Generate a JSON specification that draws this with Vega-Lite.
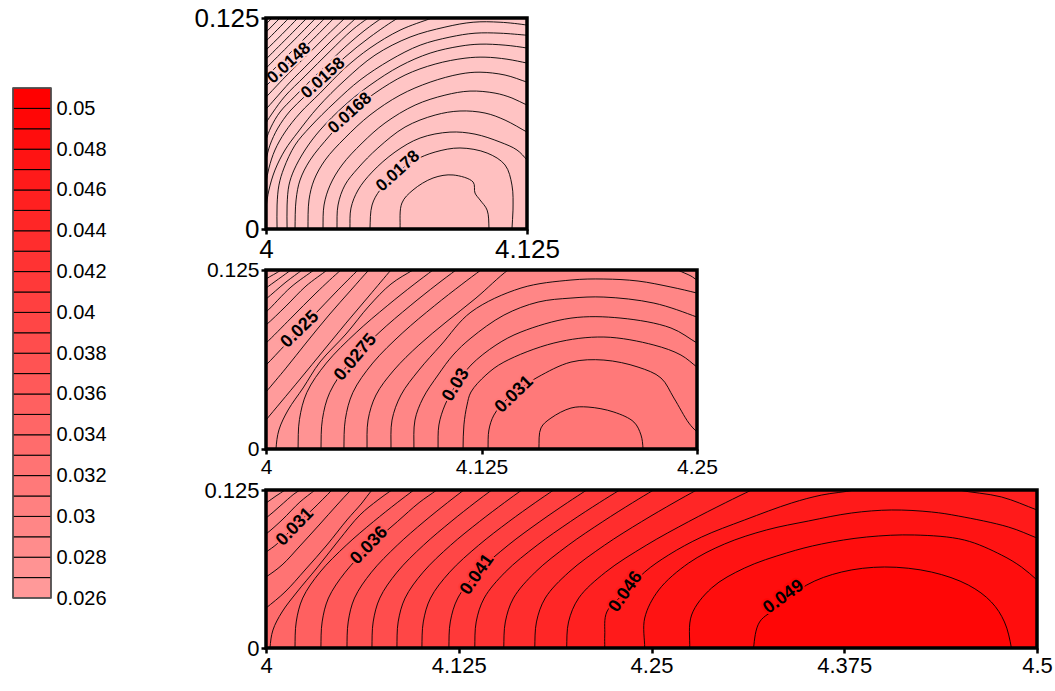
{
"$schema": "https://vega.github.io/schema/vega-lite/v6.json",
"background": "white",
"padding": {"left": 12, "top": 5, "right": 0, "bottom": 0},
"config": {"font": "Liberation Sans", "view": {"stroke": null},
  "axis": {"grid": false, "domain": false, "ticks": true, "tickColor": "black", "tickWidth": 2.5, "tickSize": 5, "labelColor": "black", "labelFlush": false, "labelOverlap": false, "labelPadding": 2, "labelExpr": "'' + datum.value"}},
"datasets": {
"lg": [{"lo":0.026,"hi":0.027},{"lo":0.027,"hi":0.028},{"lo":0.028,"hi":0.029},{"lo":0.029,"hi":0.03},{"lo":0.03,"hi":0.031},{"lo":0.031,"hi":0.032},{"lo":0.032,"hi":0.033},{"lo":0.033,"hi":0.034},{"lo":0.034,"hi":0.035},{"lo":0.035,"hi":0.036},{"lo":0.036,"hi":0.037},{"lo":0.037,"hi":0.038},{"lo":0.038,"hi":0.039},{"lo":0.039,"hi":0.04},{"lo":0.04,"hi":0.041},{"lo":0.041,"hi":0.042},{"lo":0.042,"hi":0.043},{"lo":0.043,"hi":0.044},{"lo":0.044,"hi":0.045},{"lo":0.045,"hi":0.046},{"lo":0.046,"hi":0.047},{"lo":0.047,"hi":0.048},{"lo":0.048,"hi":0.049},{"lo":0.049,"hi":0.05},{"lo":0.05,"hi":0.051}],
"lgb": [{"lo":0.026,"hi":0.051}],
"l1": [{"t":"0.0148","x":4.011,"y":0.0983,"lv":0.0148},{"t":"0.0158","x":4.0273,"y":0.0894,"lv":0.0158},{"t":"0.0168","x":4.0402,"y":0.0687,"lv":0.0168},{"t":"0.0178","x":4.0632,"y":0.0343,"lv":0.0178}],
"l2": [{"t":"0.025","x":4.0197,"y":0.0834,"lv":0.025,"g":"a"},{"t":"0.031","x":4.144,"y":0.038,"lv":0.031,"g":"a"},{"t":"0.0275","x":4.052,"y":0.064,"lv":0.0275,"g":"b"},{"t":"0.03","x":4.1102,"y":0.0447,"lv":0.03,"g":"c"}],
"l3": [{"t":"0.031","x":4.0188,"y":0.0957,"lv":0.031,"g":"a"},{"t":"0.036","x":4.067,"y":0.081,"lv":0.036,"g":"a"},{"t":"0.041","x":4.137,"y":0.058,"lv":0.041,"g":"b"},{"t":"0.046","x":4.2333,"y":0.0443,"lv":0.046,"g":"b"},{"t":"0.049","x":4.3357,"y":0.0403,"lv":0.049,"g":"c"}],
"f1": [{"x":4,"y":0,"x2":4.125,"y2":0.125}],
"f2": [{"x":4,"y":0,"x2":4.25,"y2":0.125}],
"f3": [{"x":4,"y":0,"x2":4.5,"y2":0.125}],
"c1": [
{"lv":0.0132,"x":3.985,"y":-0.015},{"lv":0.0132,"x":3.985,"y":0.14},{"lv":0.0132,"x":4.14,"y":0.14},{"lv":0.0132,"x":4.14,"y":-0.015},
{"lv":0.0134,"x":3.9976,"y":0.1184},{"lv":0.0134,"x":4,"y":0.1214},{"lv":0.0134,"x":4.0029,"y":0.125},{"lv":0.0134,"x":4.0053,"y":0.128},{"lv":0.0134,"x":4.14,"y":0.14},{"lv":0.0134,"x":4.14,"y":-0.015},{"lv":0.0134,"x":3.985,"y":-0.015},
{"lv":0.0136,"x":3.9976,"y":0.1136},{"lv":0.0136,"x":4,"y":0.1166},{"lv":0.0136,"x":4.0067,"y":0.125},{"lv":0.0136,"x":4.0091,"y":0.128},{"lv":0.0136,"x":4.14,"y":0.14},{"lv":0.0136,"x":4.14,"y":-0.015},{"lv":0.0136,"x":3.985,"y":-0.015},
{"lv":0.0138,"x":3.9976,"y":0.1083},{"lv":0.0138,"x":4,"y":0.1113},{"lv":0.0138,"x":4.0057,"y":0.1184},{"lv":0.0138,"x":4.011,"y":0.125},{"lv":0.0138,"x":4.0134,"y":0.128},{"lv":0.0138,"x":4.14,"y":0.14},{"lv":0.0138,"x":4.14,"y":-0.015},{"lv":0.0138,"x":3.985,"y":-0.015},
{"lv":0.014,"x":3.9976,"y":0.103},{"lv":0.014,"x":4,"y":0.106},{"lv":0.014,"x":4.0077,"y":0.1154},{"lv":0.014,"x":4.0153,"y":0.125},{"lv":0.014,"x":4.0177,"y":0.128},{"lv":0.014,"x":4.14,"y":0.14},{"lv":0.014,"x":4.14,"y":-0.015},{"lv":0.014,"x":3.985,"y":-0.015},
{"lv":0.0142,"x":3.9976,"y":0.0976},{"lv":0.0142,"x":4,"y":0.1006},{"lv":0.0142,"x":4.0101,"y":0.1131},{"lv":0.0142,"x":4.0196,"y":0.125},{"lv":0.0142,"x":4.022,"y":0.128},{"lv":0.0142,"x":4.14,"y":0.14},{"lv":0.0142,"x":4.14,"y":-0.015},{"lv":0.0142,"x":3.985,"y":-0.015},
{"lv":0.0144,"x":3.9976,"y":0.0923},{"lv":0.0144,"x":4,"y":0.0953},{"lv":0.0144,"x":4.012,"y":0.1101},{"lv":0.0144,"x":4.0239,"y":0.125},{"lv":0.0144,"x":4.0263,"y":0.128},{"lv":0.0144,"x":4.14,"y":0.14},{"lv":0.0144,"x":4.14,"y":-0.015},{"lv":0.0144,"x":3.985,"y":-0.015},
{"lv":0.0146,"x":3.9976,"y":0.087},{"lv":0.0146,"x":4,"y":0.09},{"lv":0.0146,"x":4.0139,"y":0.1072},{"lv":0.0146,"x":4.0283,"y":0.125},{"lv":0.0146,"x":4.0307,"y":0.128},{"lv":0.0146,"x":4.14,"y":0.14},{"lv":0.0146,"x":4.14,"y":-0.015},{"lv":0.0146,"x":3.985,"y":-0.015},
{"lv":0.0148,"x":3.9976,"y":0.0817},{"lv":0.0148,"x":4,"y":0.0847},{"lv":0.0148,"x":4.011,"y":0.0983},{"lv":0.0148,"x":4.0211,"y":0.1107},{"lv":0.0148,"x":4.0326,"y":0.125},{"lv":0.0148,"x":4.035,"y":0.128},{"lv":0.0148,"x":4.14,"y":0.14},{"lv":0.0148,"x":4.14,"y":-0.015},{"lv":0.0148,"x":3.985,"y":-0.015},
{"lv":0.015,"x":3.9976,"y":0.0751},{"lv":0.015,"x":4,"y":0.0781},{"lv":0.015,"x":4.0091,"y":0.09},{"lv":0.015,"x":4.0187,"y":0.1018},{"lv":0.015,"x":4.0283,"y":0.1137},{"lv":0.015,"x":4.0378,"y":0.125},{"lv":0.015,"x":4.0402,"y":0.128},{"lv":0.015,"x":4.14,"y":0.14},{"lv":0.015,"x":4.14,"y":-0.015},{"lv":0.015,"x":3.985,"y":-0.015},
{"lv":0.0152,"x":3.9981,"y":0.0686},{"lv":0.0152,"x":4,"y":0.071},{"lv":0.0152,"x":4.0043,"y":0.077},{"lv":0.0152,"x":4.0115,"y":0.087},{"lv":0.0152,"x":4.0211,"y":0.0989},{"lv":0.0152,"x":4.0316,"y":0.1119},{"lv":0.0152,"x":4.0431,"y":0.125},{"lv":0.0152,"x":4.0455,"y":0.128},{"lv":0.0152,"x":4.14,"y":0.14},{"lv":0.0152,"x":4.14,"y":-0.015},{"lv":0.0152,"x":3.985,"y":-0.015},
{"lv":0.0154,"x":3.9985,"y":0.059},{"lv":0.0154,"x":4,"y":0.0628},{"lv":0.0154,"x":4.0034,"y":0.0693},{"lv":0.0154,"x":4.0091,"y":0.0787},{"lv":0.0154,"x":4.0187,"y":0.0906},{"lv":0.0154,"x":4.0307,"y":0.1054},{"lv":0.0154,"x":4.0412,"y":0.1178},{"lv":0.0154,"x":4.0489,"y":0.125},{"lv":0.0154,"x":4.052,"y":0.1275},{"lv":0.0154,"x":4.14,"y":0.14},{"lv":0.0154,"x":4.14,"y":-0.015},{"lv":0.0154,"x":3.985,"y":-0.015},
{"lv":0.0156,"x":3.999,"y":0.048},{"lv":0.0156,"x":4,"y":0.0527},{"lv":0.0156,"x":4.0024,"y":0.0604},{"lv":0.0156,"x":4.0067,"y":0.0693},{"lv":0.0156,"x":4.0139,"y":0.0787},{"lv":0.0156,"x":4.0259,"y":0.0935},{"lv":0.0156,"x":4.0378,"y":0.1077},{"lv":0.0156,"x":4.0474,"y":0.1178},{"lv":0.0156,"x":4.0556,"y":0.125},{"lv":0.0156,"x":4.0595,"y":0.1275},{"lv":0.0156,"x":4.14,"y":0.14},{"lv":0.0156,"x":4.14,"y":-0.015},{"lv":0.0156,"x":3.985,"y":-0.015},
{"lv":0.0158,"x":3.999,"y":0.035},{"lv":0.0158,"x":4,"y":0.0408},{"lv":0.0158,"x":4.0019,"y":0.0497},{"lv":0.0158,"x":4.0057,"y":0.0598},{"lv":0.0158,"x":4.0115,"y":0.0699},{"lv":0.0158,"x":4.0187,"y":0.0787},{"lv":0.0158,"x":4.0273,"y":0.0894},{"lv":0.0158,"x":4.0378,"y":0.1018},{"lv":0.0158,"x":4.0498,"y":0.1137},{"lv":0.0158,"x":4.0632,"y":0.125},{"lv":0.0158,"x":4.068,"y":0.128},{"lv":0.0158,"x":4.14,"y":0.14},{"lv":0.0158,"x":4.14,"y":-0.015},{"lv":0.0158,"x":3.985,"y":-0.015},
{"lv":0.016,"x":3.9995,"y":0.021},{"lv":0.016,"x":4,"y":0.0272},{"lv":0.016,"x":4.0014,"y":0.0361},{"lv":0.016,"x":4.0043,"y":0.0468},{"lv":0.016,"x":4.0091,"y":0.0574},{"lv":0.016,"x":4.0163,"y":0.0687},{"lv":0.016,"x":4.0259,"y":0.0805},{"lv":0.016,"x":4.0378,"y":0.0953},{"lv":0.016,"x":4.0498,"y":0.1072},{"lv":0.016,"x":4.0642,"y":0.1178},{"lv":0.016,"x":4.0795,"y":0.125},{"lv":0.016,"x":4.086,"y":0.128},{"lv":0.016,"x":4.14,"y":0.14},{"lv":0.016,"x":4.14,"y":-0.015},{"lv":0.016,"x":3.985,"y":-0.015},
{"lv":0.0162,"x":3.9995,"y":0.005},{"lv":0.0162,"x":4,"y":0.0124},{"lv":0.0162,"x":4.0014,"y":0.0231},{"lv":0.0162,"x":4.0043,"y":0.0349},{"lv":0.0162,"x":4.0091,"y":0.0468},{"lv":0.0162,"x":4.0153,"y":0.0574},{"lv":0.0162,"x":4.0249,"y":0.0722},{"lv":0.0162,"x":4.0378,"y":0.0882},{"lv":0.0162,"x":4.0522,"y":0.103},{"lv":0.0162,"x":4.069,"y":0.1137},{"lv":0.0162,"x":4.0857,"y":0.1196},{"lv":0.0162,"x":4.0992,"y":0.1225},{"lv":0.0162,"x":4.1121,"y":0.1225},{"lv":0.0162,"x":4.125,"y":0.1208},{"lv":0.0162,"x":4.13,"y":0.1195},{"lv":0.0162,"x":4.14,"y":-0.015},{"lv":0.0162,"x":3.985,"y":-0.015},
{"lv":0.0164,"x":4.0053,"y":-0.015},{"lv":0.0164,"x":4.0053,"y":0},{"lv":0.0164,"x":4.0053,"y":0.0142},{"lv":0.0164,"x":4.0062,"y":0.026},{"lv":0.0164,"x":4.0086,"y":0.0361},{"lv":0.0164,"x":4.0139,"y":0.0497},{"lv":0.0164,"x":4.0211,"y":0.0604},{"lv":0.0164,"x":4.0331,"y":0.0752},{"lv":0.0164,"x":4.045,"y":0.0882},{"lv":0.0164,"x":4.0594,"y":0.1},{"lv":0.0164,"x":4.0738,"y":0.1089},{"lv":0.0164,"x":4.0881,"y":0.1137},{"lv":0.0164,"x":4.1001,"y":0.116},{"lv":0.0164,"x":4.1121,"y":0.116},{"lv":0.0164,"x":4.125,"y":0.1148},{"lv":0.0164,"x":4.13,"y":0.1143},{"lv":0.0164,"x":4.14,"y":-0.015},
{"lv":0.0166,"x":4.0101,"y":-0.015},{"lv":0.0166,"x":4.0101,"y":0},{"lv":0.0166,"x":4.0101,"y":0.0142},{"lv":0.0166,"x":4.011,"y":0.026},{"lv":0.0166,"x":4.0134,"y":0.0349},{"lv":0.0166,"x":4.0187,"y":0.0468},{"lv":0.0166,"x":4.0259,"y":0.0586},{"lv":0.0166,"x":4.0378,"y":0.0734},{"lv":0.0166,"x":4.0498,"y":0.0852},{"lv":0.0166,"x":4.0642,"y":0.0965},{"lv":0.0166,"x":4.0786,"y":0.1042},{"lv":0.0166,"x":4.0929,"y":0.1083},{"lv":0.0166,"x":4.1025,"y":0.1095},{"lv":0.0166,"x":4.1145,"y":0.1089},{"lv":0.0166,"x":4.125,"y":0.1072},{"lv":0.0166,"x":4.13,"y":0.106},{"lv":0.0166,"x":4.14,"y":-0.015},
{"lv":0.0168,"x":4.0139,"y":-0.015},{"lv":0.0168,"x":4.0139,"y":0},{"lv":0.0168,"x":4.0144,"y":0.0172},{"lv":0.0168,"x":4.0163,"y":0.029},{"lv":0.0168,"x":4.0211,"y":0.0408},{"lv":0.0168,"x":4.0307,"y":0.0556},{"lv":0.0168,"x":4.0402,"y":0.0687},{"lv":0.0168,"x":4.0522,"y":0.0805},{"lv":0.0168,"x":4.0666,"y":0.0912},{"lv":0.0168,"x":4.081,"y":0.0977},{"lv":0.0168,"x":4.0953,"y":0.1012},{"lv":0.0168,"x":4.1049,"y":0.1018},{"lv":0.0168,"x":4.1154,"y":0.1006},{"lv":0.0168,"x":4.125,"y":0.0983},{"lv":0.0168,"x":4.13,"y":0.097},{"lv":0.0168,"x":4.14,"y":-0.015},
{"lv":0.017,"x":4.0201,"y":-0.015},{"lv":0.017,"x":4.0201,"y":0},{"lv":0.017,"x":4.0206,"y":0.0172},{"lv":0.017,"x":4.023,"y":0.029},{"lv":0.017,"x":4.0283,"y":0.0408},{"lv":0.017,"x":4.0378,"y":0.0539},{"lv":0.017,"x":4.0498,"y":0.0675},{"lv":0.017,"x":4.0642,"y":0.0793},{"lv":0.017,"x":4.0786,"y":0.087},{"lv":0.017,"x":4.0929,"y":0.0918},{"lv":0.017,"x":4.1025,"y":0.0929},{"lv":0.017,"x":4.1145,"y":0.0912},{"lv":0.017,"x":4.125,"y":0.087},{"lv":0.017,"x":4.13,"y":0.085},{"lv":0.017,"x":4.14,"y":-0.015},
{"lv":0.0172,"x":4.0273,"y":-0.015},{"lv":0.0172,"x":4.0273,"y":0},{"lv":0.0172,"x":4.0278,"y":0.0142},{"lv":0.0172,"x":4.0307,"y":0.026},{"lv":0.0172,"x":4.0364,"y":0.0379},{"lv":0.0172,"x":4.046,"y":0.0509},{"lv":0.0172,"x":4.057,"y":0.0628},{"lv":0.0172,"x":4.0714,"y":0.0734},{"lv":0.0172,"x":4.0857,"y":0.0793},{"lv":0.0172,"x":4.0977,"y":0.0817},{"lv":0.0172,"x":4.1097,"y":0.0805},{"lv":0.0172,"x":4.1178,"y":0.0776},{"lv":0.0172,"x":4.125,"y":0.0734},{"lv":0.0172,"x":4.13,"y":0.071},{"lv":0.0172,"x":4.14,"y":-0.015},
{"lv":0.0174,"x":4.034,"y":-0.015},{"lv":0.0174,"x":4.034,"y":0},{"lv":0.0174,"x":4.0345,"y":0.0142},{"lv":0.0174,"x":4.0378,"y":0.026},{"lv":0.0174,"x":4.0441,"y":0.0361},{"lv":0.0174,"x":4.0536,"y":0.048},{"lv":0.0174,"x":4.0666,"y":0.0604},{"lv":0.0174,"x":4.081,"y":0.0675},{"lv":0.0174,"x":4.0929,"y":0.0699},{"lv":0.0174,"x":4.1049,"y":0.0687},{"lv":0.0174,"x":4.1145,"y":0.0645},{"lv":0.0174,"x":4.125,"y":0.0574},{"lv":0.0174,"x":4.13,"y":0.054},{"lv":0.0174,"x":4.14,"y":-0.015},
{"lv":0.0176,"x":4.0402,"y":-0.015},{"lv":0.0176,"x":4.0402,"y":0},{"lv":0.0176,"x":4.0407,"y":0.0124},{"lv":0.0176,"x":4.0441,"y":0.0231},{"lv":0.0176,"x":4.0508,"y":0.0337},{"lv":0.0176,"x":4.0618,"y":0.0456},{"lv":0.0176,"x":4.0738,"y":0.0539},{"lv":0.0176,"x":4.0881,"y":0.0574},{"lv":0.0176,"x":4.1001,"y":0.0562},{"lv":0.0176,"x":4.1121,"y":0.0515},{"lv":0.0176,"x":4.1202,"y":0.0468},{"lv":0.0176,"x":4.125,"y":0.0408},{"lv":0.0176,"x":4.129,"y":0.034},{"lv":0.0176,"x":4.14,"y":-0.015},
{"lv":0.0178,"x":4.0498,"y":-0.015},{"lv":0.0178,"x":4.0498,"y":0},{"lv":0.0178,"x":4.0508,"y":0.0142},{"lv":0.0178,"x":4.0546,"y":0.0231},{"lv":0.0178,"x":4.0632,"y":0.0337},{"lv":0.0178,"x":4.0714,"y":0.0408},{"lv":0.0178,"x":4.081,"y":0.0456},{"lv":0.0178,"x":4.0929,"y":0.048},{"lv":0.0178,"x":4.1059,"y":0.045},{"lv":0.0178,"x":4.1145,"y":0.0379},{"lv":0.0178,"x":4.1178,"y":0.026},{"lv":0.0178,"x":4.1183,"y":0.0112},{"lv":0.0178,"x":4.1178,"y":0},{"lv":0.0178,"x":4.1178,"y":-0.015},
{"lv":0.018,"x":4.0642,"y":-0.015},{"lv":0.018,"x":4.0642,"y":0},{"lv":0.018,"x":4.0651,"y":0.0154},{"lv":0.018,"x":4.0704,"y":0.0231},{"lv":0.018,"x":4.08,"y":0.0302},{"lv":0.018,"x":4.0896,"y":0.032},{"lv":0.018,"x":4.0992,"y":0.0278},{"lv":0.018,"x":4.1001,"y":0.0213},{"lv":0.018,"x":4.1025,"y":0.0172},{"lv":0.018,"x":4.1059,"y":0.0112},{"lv":0.018,"x":4.1068,"y":0},{"lv":0.018,"x":4.1068,"y":-0.015}
],
"c2": [
{"lv":0.0215,"x":3.97,"y":-0.015},{"lv":0.0215,"x":3.97,"y":0.14},{"lv":0.0215,"x":4.28,"y":0.14},{"lv":0.0215,"x":4.28,"y":-0.015},
{"lv":0.022,"x":3.995,"y":0.114},{"lv":0.022,"x":4,"y":0.1187},{"lv":0.022,"x":4.0087,"y":0.125},{"lv":0.022,"x":4.013,"y":0.13},{"lv":0.022,"x":4.28,"y":0.14},{"lv":0.022,"x":4.28,"y":-0.015},{"lv":0.022,"x":3.97,"y":-0.015},
{"lv":0.0225,"x":3.995,"y":0.108},{"lv":0.0225,"x":4,"y":0.1124},{"lv":0.0225,"x":4.0145,"y":0.125},{"lv":0.0225,"x":4.019,"y":0.129},{"lv":0.0225,"x":4.28,"y":0.14},{"lv":0.0225,"x":4.28,"y":-0.015},{"lv":0.0225,"x":3.97,"y":-0.015},
{"lv":0.023,"x":3.995,"y":0.1},{"lv":0.023,"x":4,"y":0.1047},{"lv":0.023,"x":4.0116,"y":0.1166},{"lv":0.023,"x":4.0209,"y":0.125},{"lv":0.023,"x":4.025,"y":0.129},{"lv":0.023,"x":4.28,"y":0.14},{"lv":0.023,"x":4.28,"y":-0.015},{"lv":0.023,"x":3.97,"y":-0.015},
{"lv":0.0235,"x":3.995,"y":0.091},{"lv":0.0235,"x":4,"y":0.0956},{"lv":0.0235,"x":4.0145,"y":0.1131},{"lv":0.0235,"x":4.0278,"y":0.125},{"lv":0.0235,"x":4.032,"y":0.129},{"lv":0.0235,"x":4.28,"y":0.14},{"lv":0.0235,"x":4.28,"y":-0.015},{"lv":0.0235,"x":3.97,"y":-0.015},
{"lv":0.024,"x":3.995,"y":0.082},{"lv":0.024,"x":4,"y":0.0866},{"lv":0.024,"x":4.0116,"y":0.0998},{"lv":0.024,"x":4.0232,"y":0.1138},{"lv":0.024,"x":4.0354,"y":0.125},{"lv":0.024,"x":4.039,"y":0.129},{"lv":0.024,"x":4.28,"y":0.14},{"lv":0.024,"x":4.28,"y":-0.015},{"lv":0.024,"x":3.97,"y":-0.015},
{"lv":0.0245,"x":3.995,"y":0.069},{"lv":0.0245,"x":4,"y":0.074},{"lv":0.0245,"x":4.0145,"y":0.0914},{"lv":0.0245,"x":4.029,"y":0.1089},{"lv":0.0245,"x":4.0435,"y":0.125},{"lv":0.0245,"x":4.048,"y":0.129},{"lv":0.0245,"x":4.28,"y":0.14},{"lv":0.0245,"x":4.28,"y":-0.015},{"lv":0.0245,"x":3.97,"y":-0.015},
{"lv":0.025,"x":3.995,"y":0.053},{"lv":0.025,"x":4,"y":0.0586},{"lv":0.025,"x":4.0116,"y":0.0733},{"lv":0.025,"x":4.0273,"y":0.0928},{"lv":0.025,"x":4.0406,"y":0.1096},{"lv":0.025,"x":4.0534,"y":0.125},{"lv":0.025,"x":4.057,"y":0.129},{"lv":0.025,"x":4.28,"y":0.14},{"lv":0.025,"x":4.28,"y":-0.015},{"lv":0.025,"x":3.97,"y":-0.015},
{"lv":0.0255,"x":3.996,"y":0.034},{"lv":0.0255,"x":4,"y":0.0398},{"lv":0.0255,"x":4.0116,"y":0.0565},{"lv":0.0255,"x":4.0232,"y":0.074},{"lv":0.0255,"x":4.0365,"y":0.0935},{"lv":0.0255,"x":4.0493,"y":0.111},{"lv":0.0255,"x":4.0597,"y":0.125},{"lv":0.0255,"x":4.064,"y":0.13},{"lv":0.0255,"x":4.28,"y":0.14},{"lv":0.0255,"x":4.28,"y":-0.015},{"lv":0.0255,"x":3.97,"y":-0.015},
{"lv":0.026,"x":3.996,"y":0.014},{"lv":0.026,"x":4,"y":0.0202},{"lv":0.026,"x":4.0087,"y":0.0328},{"lv":0.026,"x":4.0203,"y":0.0496},{"lv":0.026,"x":4.0331,"y":0.0684},{"lv":0.026,"x":4.0464,"y":0.0879},{"lv":0.026,"x":4.0597,"y":0.1068},{"lv":0.026,"x":4.0725,"y":0.125},{"lv":0.026,"x":4.077,"y":0.131},{"lv":0.026,"x":4.28,"y":0.14},{"lv":0.026,"x":4.28,"y":-0.015},{"lv":0.026,"x":3.97,"y":-0.015},
{"lv":0.0265,"x":4.0058,"y":-0.015},{"lv":0.0265,"x":4.0058,"y":0},{"lv":0.0265,"x":4.0075,"y":0.0133},{"lv":0.0265,"x":4.0128,"y":0.0272},{"lv":0.0265,"x":4.0215,"y":0.0426},{"lv":0.0265,"x":4.0313,"y":0.0607},{"lv":0.0265,"x":4.0464,"y":0.0803},{"lv":0.0265,"x":4.0597,"y":0.0998},{"lv":0.0265,"x":4.0725,"y":0.1152},{"lv":0.0265,"x":4.0853,"y":0.125},{"lv":0.0265,"x":4.094,"y":0.131},{"lv":0.0265,"x":4.28,"y":0.14},{"lv":0.0265,"x":4.28,"y":-0.015},
{"lv":0.027,"x":4.0186,"y":-0.015},{"lv":0.027,"x":4.0186,"y":0},{"lv":0.027,"x":4.0194,"y":0.0206},{"lv":0.027,"x":4.0237,"y":0.0395},{"lv":0.027,"x":4.035,"y":0.06},{"lv":0.027,"x":4.0523,"y":0.0813},{"lv":0.027,"x":4.0703,"y":0.1},{"lv":0.027,"x":4.0859,"y":0.115},{"lv":0.027,"x":4.0969,"y":0.125},{"lv":0.027,"x":4.107,"y":0.134},{"lv":0.027,"x":4.28,"y":0.14},{"lv":0.027,"x":4.28,"y":-0.015},
{"lv":0.0275,"x":4.0319,"y":-0.015},{"lv":0.0275,"x":4.0319,"y":0},{"lv":0.0275,"x":4.0327,"y":0.0206},{"lv":0.0275,"x":4.037,"y":0.0395},{"lv":0.0275,"x":4.0483,"y":0.06},{"lv":0.0275,"x":4.0656,"y":0.0813},{"lv":0.0275,"x":4.0836,"y":0.1},{"lv":0.0275,"x":4.0992,"y":0.115},{"lv":0.0275,"x":4.1102,"y":0.125},{"lv":0.0275,"x":4.12,"y":0.134},{"lv":0.0275,"x":4.28,"y":0.14},{"lv":0.0275,"x":4.28,"y":-0.015},
{"lv":0.028,"x":4.0452,"y":-0.015},{"lv":0.028,"x":4.0452,"y":0},{"lv":0.028,"x":4.046,"y":0.0206},{"lv":0.028,"x":4.0504,"y":0.0395},{"lv":0.028,"x":4.0619,"y":0.06},{"lv":0.028,"x":4.0794,"y":0.0813},{"lv":0.028,"x":4.0977,"y":0.1},{"lv":0.028,"x":4.1136,"y":0.115},{"lv":0.028,"x":4.1247,"y":0.125},{"lv":0.028,"x":4.135,"y":0.134},{"lv":0.028,"x":4.28,"y":0.14},{"lv":0.028,"x":4.28,"y":-0.015},
{"lv":0.0285,"x":4.0586,"y":-0.015},{"lv":0.0285,"x":4.0586,"y":0},{"lv":0.0285,"x":4.0592,"y":0.0202},{"lv":0.0285,"x":4.0638,"y":0.0377},{"lv":0.0285,"x":4.0742,"y":0.0551},{"lv":0.0285,"x":4.0887,"y":0.0726},{"lv":0.0285,"x":4.1044,"y":0.0886},{"lv":0.0285,"x":4.1218,"y":0.1054},{"lv":0.0285,"x":4.1404,"y":0.125},{"lv":0.0285,"x":4.15,"y":0.132},{"lv":0.0285,"x":4.23,"y":0.132},{"lv":0.0285,"x":4.239,"y":0.125},{"lv":0.0285,"x":4.2465,"y":0.1208},{"lv":0.0285,"x":4.25,"y":0.118},{"lv":0.0285,"x":4.26,"y":0.112},{"lv":0.0285,"x":4.28,"y":-0.015},
{"lv":0.029,"x":4.0725,"y":-0.015},{"lv":0.029,"x":4.0725,"y":0},{"lv":0.029,"x":4.0731,"y":0.0202},{"lv":0.029,"x":4.0783,"y":0.0377},{"lv":0.029,"x":4.0887,"y":0.0551},{"lv":0.029,"x":4.1015,"y":0.0726},{"lv":0.029,"x":4.1189,"y":0.0956},{"lv":0.029,"x":4.1479,"y":0.1124},{"lv":0.029,"x":4.1769,"y":0.118},{"lv":0.029,"x":4.196,"y":0.1187},{"lv":0.029,"x":4.2158,"y":0.1173},{"lv":0.029,"x":4.2349,"y":0.1131},{"lv":0.029,"x":4.25,"y":0.1089},{"lv":0.029,"x":4.262,"y":0.105},{"lv":0.029,"x":4.28,"y":-0.015},
{"lv":0.0295,"x":4.0858,"y":-0.015},{"lv":0.0295,"x":4.0858,"y":0},{"lv":0.0295,"x":4.0864,"y":0.0202},{"lv":0.0295,"x":4.0911,"y":0.0356},{"lv":0.0295,"x":4.0998,"y":0.0517},{"lv":0.0295,"x":4.1085,"y":0.0656},{"lv":0.0295,"x":4.1189,"y":0.0775},{"lv":0.0295,"x":4.138,"y":0.0935},{"lv":0.0295,"x":4.1578,"y":0.1026},{"lv":0.0295,"x":4.1769,"y":0.1054},{"lv":0.0295,"x":4.196,"y":0.1061},{"lv":0.0295,"x":4.225,"y":0.1019},{"lv":0.0295,"x":4.25,"y":0.0921},{"lv":0.0295,"x":4.262,"y":0.086},{"lv":0.0295,"x":4.28,"y":-0.015},
{"lv":0.03,"x":4.0998,"y":-0.015},{"lv":0.03,"x":4.0998,"y":0},{"lv":0.03,"x":4.1003,"y":0.0168},{"lv":0.03,"x":4.1038,"y":0.0307},{"lv":0.03,"x":4.1102,"y":0.0447},{"lv":0.03,"x":4.1189,"y":0.0586},{"lv":0.03,"x":4.1334,"y":0.0726},{"lv":0.03,"x":4.1479,"y":0.0817},{"lv":0.03,"x":4.1769,"y":0.0914},{"lv":0.03,"x":4.2059,"y":0.0914},{"lv":0.03,"x":4.2349,"y":0.0845},{"lv":0.03,"x":4.25,"y":0.074},{"lv":0.03,"x":4.26,"y":0.067},{"lv":0.03,"x":4.28,"y":-0.015},
{"lv":0.0305,"x":4.1143,"y":-0.015},{"lv":0.0305,"x":4.1143,"y":0},{"lv":0.0305,"x":4.1148,"y":0.0168},{"lv":0.0305,"x":4.1166,"y":0.0307},{"lv":0.0305,"x":4.1189,"y":0.0398},{"lv":0.0305,"x":4.1276,"y":0.0517},{"lv":0.0305,"x":4.138,"y":0.0607},{"lv":0.0305,"x":4.167,"y":0.074},{"lv":0.0305,"x":4.196,"y":0.0782},{"lv":0.0305,"x":4.225,"y":0.0726},{"lv":0.0305,"x":4.2407,"y":0.0656},{"lv":0.0305,"x":4.25,"y":0.0572},{"lv":0.0305,"x":4.258,"y":0.05},{"lv":0.0305,"x":4.28,"y":-0.015},
{"lv":0.031,"x":4.1288,"y":-0.015},{"lv":0.031,"x":4.1288,"y":0},{"lv":0.031,"x":4.1293,"y":0.0133},{"lv":0.031,"x":4.1322,"y":0.0237},{"lv":0.031,"x":4.1392,"y":0.0342},{"lv":0.031,"x":4.1479,"y":0.0426},{"lv":0.031,"x":4.1578,"y":0.0503},{"lv":0.031,"x":4.1769,"y":0.0607},{"lv":0.031,"x":4.196,"y":0.0621},{"lv":0.031,"x":4.2158,"y":0.0572},{"lv":0.031,"x":4.2291,"y":0.0496},{"lv":0.031,"x":4.2366,"y":0.0356},{"lv":0.031,"x":4.2453,"y":0.0181},{"lv":0.031,"x":4.25,"y":0.0119},{"lv":0.031,"x":4.256,"y":0.006},{"lv":0.031,"x":4.28,"y":-0.015},
{"lv":0.0315,"x":4.1583,"y":-0.015},{"lv":0.0315,"x":4.1583,"y":0},{"lv":0.0315,"x":4.1595,"y":0.0147},{"lv":0.0315,"x":4.1653,"y":0.0216},{"lv":0.0315,"x":4.1769,"y":0.0286},{"lv":0.0315,"x":4.1868,"y":0.0293},{"lv":0.0315,"x":4.2018,"y":0.0258},{"lv":0.0315,"x":4.2134,"y":0.0188},{"lv":0.0315,"x":4.2175,"y":0.0098},{"lv":0.0315,"x":4.2187,"y":0},{"lv":0.0315,"x":4.2187,"y":-0.015}
],
"c3": [
{"lv":0.027,"x":3.94,"y":-0.015},{"lv":0.027,"x":3.94,"y":0.14},{"lv":0.027,"x":4.56,"y":0.14},{"lv":0.027,"x":4.56,"y":-0.015},
{"lv":0.028,"x":3.99,"y":0.107},{"lv":0.028,"x":4,"y":0.1147},{"lv":0.028,"x":4.0065,"y":0.1203},{"lv":0.028,"x":4.0123,"y":0.125},{"lv":0.028,"x":4.02,"y":0.133},{"lv":0.028,"x":4.56,"y":0.14},{"lv":0.028,"x":4.56,"y":-0.015},{"lv":0.028,"x":3.94,"y":-0.015},
{"lv":0.029,"x":3.99,"y":0.095},{"lv":0.029,"x":4,"y":0.1028},{"lv":0.029,"x":4.0091,"y":0.1123},{"lv":0.029,"x":4.0181,"y":0.1218},{"lv":0.029,"x":4.022,"y":0.125},{"lv":0.029,"x":4.03,"y":0.133},{"lv":0.029,"x":4.56,"y":0.14},{"lv":0.029,"x":4.56,"y":-0.015},{"lv":0.029,"x":3.94,"y":-0.015},
{"lv":0.03,"x":3.99,"y":0.082},{"lv":0.03,"x":4,"y":0.0902},{"lv":0.03,"x":4.0104,"y":0.1013},{"lv":0.03,"x":4.022,"y":0.1155},{"lv":0.03,"x":4.0318,"y":0.125},{"lv":0.03,"x":4.04,"y":0.133},{"lv":0.03,"x":4.56,"y":0.14},{"lv":0.03,"x":4.56,"y":-0.015},{"lv":0.03,"x":3.94,"y":-0.015},
{"lv":0.031,"x":3.99,"y":0.068},{"lv":0.031,"x":4,"y":0.0759},{"lv":0.031,"x":4.0071,"y":0.0823},{"lv":0.031,"x":4.0181,"y":0.0957},{"lv":0.031,"x":4.0305,"y":0.11},{"lv":0.031,"x":4.0428,"y":0.125},{"lv":0.031,"x":4.05,"y":0.134},{"lv":0.031,"x":4.56,"y":0.14},{"lv":0.031,"x":4.56,"y":-0.015},{"lv":0.031,"x":3.94,"y":-0.015},
{"lv":0.032,"x":3.99,"y":0.049},{"lv":0.032,"x":4,"y":0.0562},{"lv":0.032,"x":4.0104,"y":0.0657},{"lv":0.032,"x":4.022,"y":0.0807},{"lv":0.032,"x":4.035,"y":0.0981},{"lv":0.032,"x":4.046,"y":0.1131},{"lv":0.032,"x":4.0551,"y":0.125},{"lv":0.032,"x":4.063,"y":0.134},{"lv":0.032,"x":4.56,"y":0.14},{"lv":0.032,"x":4.56,"y":-0.015},{"lv":0.032,"x":3.94,"y":-0.015},
{"lv":0.033,"x":3.99,"y":0.022},{"lv":0.033,"x":4,"y":0.0316},{"lv":0.033,"x":4.0123,"y":0.0443},{"lv":0.033,"x":4.0253,"y":0.0617},{"lv":0.033,"x":4.0395,"y":0.0815},{"lv":0.033,"x":4.0525,"y":0.1013},{"lv":0.033,"x":4.0622,"y":0.1147},{"lv":0.033,"x":4.0687,"y":0.125},{"lv":0.033,"x":4.076,"y":0.134},{"lv":0.033,"x":4.56,"y":0.14},{"lv":0.033,"x":4.56,"y":-0.015},{"lv":0.033,"x":3.94,"y":-0.015},
{"lv":0.034,"x":4.0026,"y":-0.015},{"lv":0.034,"x":4.0026,"y":0},{"lv":0.034,"x":4.0045,"y":0.0142},{"lv":0.034,"x":4.0104,"y":0.0285},{"lv":0.034,"x":4.0201,"y":0.0443},{"lv":0.034,"x":4.033,"y":0.0633},{"lv":0.034,"x":4.0473,"y":0.0854},{"lv":0.034,"x":4.0609,"y":0.1052},{"lv":0.034,"x":4.0726,"y":0.1171},{"lv":0.034,"x":4.0816,"y":0.125},{"lv":0.034,"x":4.091,"y":0.133},{"lv":0.034,"x":4.56,"y":0.14},{"lv":0.034,"x":4.56,"y":-0.015},
{"lv":0.035,"x":4.0188,"y":-0.015},{"lv":0.035,"x":4.0188,"y":0},{"lv":0.035,"x":4.0196,"y":0.0206},{"lv":0.035,"x":4.0238,"y":0.0395},{"lv":0.035,"x":4.035,"y":0.06},{"lv":0.035,"x":4.052,"y":0.0813},{"lv":0.035,"x":4.0697,"y":0.1},{"lv":0.035,"x":4.0851,"y":0.115},{"lv":0.035,"x":4.0959,"y":0.125},{"lv":0.035,"x":4.1059,"y":0.134},{"lv":0.035,"x":4.56,"y":0.14},{"lv":0.035,"x":4.56,"y":-0.015},
{"lv":0.036,"x":4.0356,"y":-0.015},{"lv":0.036,"x":4.0356,"y":0},{"lv":0.036,"x":4.0364,"y":0.0206},{"lv":0.036,"x":4.0405,"y":0.0395},{"lv":0.036,"x":4.0514,"y":0.06},{"lv":0.036,"x":4.0679,"y":0.0813},{"lv":0.036,"x":4.0852,"y":0.1},{"lv":0.036,"x":4.0993,"y":0.115},{"lv":0.036,"x":4.1108,"y":0.125},{"lv":0.036,"x":4.1206,"y":0.134},{"lv":0.036,"x":4.56,"y":0.14},{"lv":0.036,"x":4.56,"y":-0.015},
{"lv":0.037,"x":4.0525,"y":-0.015},{"lv":0.037,"x":4.0525,"y":0},{"lv":0.037,"x":4.0533,"y":0.0206},{"lv":0.037,"x":4.0574,"y":0.0395},{"lv":0.037,"x":4.0684,"y":0.06},{"lv":0.037,"x":4.0851,"y":0.0813},{"lv":0.037,"x":4.1025,"y":0.1},{"lv":0.037,"x":4.1177,"y":0.115},{"lv":0.037,"x":4.1283,"y":0.125},{"lv":0.037,"x":4.1382,"y":0.134},{"lv":0.037,"x":4.56,"y":0.14},{"lv":0.037,"x":4.56,"y":-0.015},
{"lv":0.038,"x":4.0687,"y":-0.015},{"lv":0.038,"x":4.0687,"y":0},{"lv":0.038,"x":4.0695,"y":0.0206},{"lv":0.038,"x":4.0738,"y":0.0395},{"lv":0.038,"x":4.085,"y":0.06},{"lv":0.038,"x":4.1021,"y":0.0813},{"lv":0.038,"x":4.12,"y":0.1},{"lv":0.038,"x":4.1355,"y":0.115},{"lv":0.038,"x":4.1464,"y":0.125},{"lv":0.038,"x":4.1565,"y":0.134},{"lv":0.038,"x":4.56,"y":0.14},{"lv":0.038,"x":4.56,"y":-0.015},
{"lv":0.039,"x":4.0849,"y":-0.015},{"lv":0.039,"x":4.0849,"y":0},{"lv":0.039,"x":4.0857,"y":0.0206},{"lv":0.039,"x":4.0902,"y":0.0395},{"lv":0.039,"x":4.1019,"y":0.06},{"lv":0.039,"x":4.1197,"y":0.0813},{"lv":0.039,"x":4.1384,"y":0.1},{"lv":0.039,"x":4.1546,"y":0.115},{"lv":0.039,"x":4.1659,"y":0.125},{"lv":0.039,"x":4.1764,"y":0.134},{"lv":0.039,"x":4.56,"y":0.14},{"lv":0.039,"x":4.56,"y":-0.015},
{"lv":0.04,"x":4.1011,"y":-0.015},{"lv":0.04,"x":4.1011,"y":0},{"lv":0.04,"x":4.102,"y":0.0206},{"lv":0.04,"x":4.1067,"y":0.0395},{"lv":0.04,"x":4.1191,"y":0.06},{"lv":0.04,"x":4.1379,"y":0.0813},{"lv":0.04,"x":4.1575,"y":0.1},{"lv":0.04,"x":4.1746,"y":0.115},{"lv":0.04,"x":4.1866,"y":0.125},{"lv":0.04,"x":4.1977,"y":0.134},{"lv":0.04,"x":4.56,"y":0.14},{"lv":0.04,"x":4.56,"y":-0.015},
{"lv":0.041,"x":4.1186,"y":-0.015},{"lv":0.041,"x":4.1186,"y":0},{"lv":0.041,"x":4.1195,"y":0.0206},{"lv":0.041,"x":4.1244,"y":0.0395},{"lv":0.041,"x":4.1374,"y":0.06},{"lv":0.041,"x":4.157,"y":0.0813},{"lv":0.041,"x":4.1776,"y":0.1},{"lv":0.041,"x":4.1955,"y":0.115},{"lv":0.041,"x":4.208,"y":0.125},{"lv":0.041,"x":4.2196,"y":0.134},{"lv":0.041,"x":4.56,"y":0.14},{"lv":0.041,"x":4.56,"y":-0.015},
{"lv":0.042,"x":4.1354,"y":-0.015},{"lv":0.042,"x":4.1354,"y":0},{"lv":0.042,"x":4.1363,"y":0.0206},{"lv":0.042,"x":4.1415,"y":0.0395},{"lv":0.042,"x":4.1551,"y":0.06},{"lv":0.042,"x":4.1758,"y":0.0813},{"lv":0.042,"x":4.1974,"y":0.1},{"lv":0.042,"x":4.2162,"y":0.115},{"lv":0.042,"x":4.2294,"y":0.125},{"lv":0.042,"x":4.2416,"y":0.134},{"lv":0.042,"x":4.56,"y":0.14},{"lv":0.042,"x":4.56,"y":-0.015},
{"lv":0.043,"x":4.1542,"y":-0.015},{"lv":0.043,"x":4.1542,"y":0},{"lv":0.043,"x":4.1552,"y":0.0206},{"lv":0.043,"x":4.1605,"y":0.0395},{"lv":0.043,"x":4.1746,"y":0.06},{"lv":0.043,"x":4.196,"y":0.0813},{"lv":0.043,"x":4.2184,"y":0.1},{"lv":0.043,"x":4.2378,"y":0.115},{"lv":0.043,"x":4.2514,"y":0.125},{"lv":0.043,"x":4.264,"y":0.134},{"lv":0.043,"x":4.56,"y":0.14},{"lv":0.043,"x":4.56,"y":-0.015},
{"lv":0.044,"x":4.1743,"y":-0.015},{"lv":0.044,"x":4.1743,"y":0},{"lv":0.044,"x":4.1754,"y":0.0206},{"lv":0.044,"x":4.1811,"y":0.0395},{"lv":0.044,"x":4.1964,"y":0.06},{"lv":0.044,"x":4.2195,"y":0.0813},{"lv":0.044,"x":4.2436,"y":0.1},{"lv":0.044,"x":4.2646,"y":0.115},{"lv":0.044,"x":4.2793,"y":0.125},{"lv":0.044,"x":4.293,"y":0.134},{"lv":0.044,"x":4.56,"y":0.14},{"lv":0.044,"x":4.56,"y":-0.015},
{"lv":0.045,"x":4.195,"y":-0.015},{"lv":0.045,"x":4.195,"y":0},{"lv":0.045,"x":4.1962,"y":0.0206},{"lv":0.045,"x":4.2028,"y":0.0395},{"lv":0.045,"x":4.2202,"y":0.06},{"lv":0.045,"x":4.2466,"y":0.0813},{"lv":0.045,"x":4.2741,"y":0.1},{"lv":0.045,"x":4.2981,"y":0.115},{"lv":0.045,"x":4.3149,"y":0.125},{"lv":0.045,"x":4.3305,"y":0.134},{"lv":0.045,"x":4.56,"y":0.14},{"lv":0.045,"x":4.56,"y":-0.015},
{"lv":0.046,"x":4.2197,"y":-0.015},{"lv":0.046,"x":4.2197,"y":0},{"lv":0.046,"x":4.2197,"y":0.0103},{"lv":0.046,"x":4.221,"y":0.0285},{"lv":0.046,"x":4.2333,"y":0.0443},{"lv":0.046,"x":4.2456,"y":0.0601},{"lv":0.046,"x":4.2611,"y":0.0736},{"lv":0.046,"x":4.2825,"y":0.0878},{"lv":0.046,"x":4.3104,"y":0.1013},{"lv":0.046,"x":4.3408,"y":0.1147},{"lv":0.046,"x":4.3603,"y":0.121},{"lv":0.046,"x":4.3817,"y":0.125},{"lv":0.046,"x":4.4,"y":0.131},{"lv":0.046,"x":4.43,"y":0.131},{"lv":0.046,"x":4.4491,"y":0.125},{"lv":0.046,"x":4.4769,"y":0.1195},{"lv":0.046,"x":4.5,"y":0.1092},{"lv":0.046,"x":4.52,"y":0.1},{"lv":0.046,"x":4.56,"y":-0.015},
{"lv":0.047,"x":4.2456,"y":-0.015},{"lv":0.047,"x":4.2456,"y":0},{"lv":0.047,"x":4.2456,"y":0.0237},{"lv":0.047,"x":4.2547,"y":0.0459},{"lv":0.047,"x":4.2741,"y":0.0672},{"lv":0.047,"x":4.2974,"y":0.0823},{"lv":0.047,"x":4.3246,"y":0.0934},{"lv":0.047,"x":4.3519,"y":0.1005},{"lv":0.047,"x":4.3797,"y":0.1068},{"lv":0.047,"x":4.4056,"y":0.1092},{"lv":0.047,"x":4.4316,"y":0.1076},{"lv":0.047,"x":4.4491,"y":0.1044},{"lv":0.047,"x":4.4815,"y":0.0957},{"lv":0.047,"x":4.5,"y":0.087},{"lv":0.047,"x":4.52,"y":0.077},{"lv":0.047,"x":4.56,"y":-0.015},
{"lv":0.048,"x":4.2748,"y":-0.015},{"lv":0.048,"x":4.2748,"y":0},{"lv":0.048,"x":4.276,"y":0.0261},{"lv":0.048,"x":4.289,"y":0.0475},{"lv":0.048,"x":4.3104,"y":0.0633},{"lv":0.048,"x":4.3376,"y":0.0752},{"lv":0.048,"x":4.3603,"y":0.0823},{"lv":0.048,"x":4.3894,"y":0.0878},{"lv":0.048,"x":4.4206,"y":0.0894},{"lv":0.048,"x":4.453,"y":0.0854},{"lv":0.048,"x":4.4769,"y":0.0736},{"lv":0.048,"x":4.4899,"y":0.0641},{"lv":0.048,"x":4.5,"y":0.0538},{"lv":0.048,"x":4.51,"y":0.043},{"lv":0.048,"x":4.56,"y":-0.015},
{"lv":0.049,"x":4.3162,"y":-0.015},{"lv":0.049,"x":4.3162,"y":0},{"lv":0.049,"x":4.3201,"y":0.0206},{"lv":0.049,"x":4.3324,"y":0.0324},{"lv":0.049,"x":4.3506,"y":0.0498},{"lv":0.049,"x":4.3732,"y":0.0601},{"lv":0.049,"x":4.4011,"y":0.0641},{"lv":0.049,"x":4.4316,"y":0.0601},{"lv":0.049,"x":4.4555,"y":0.0498},{"lv":0.049,"x":4.4704,"y":0.0364},{"lv":0.049,"x":4.4789,"y":0.0206},{"lv":0.049,"x":4.4834,"y":0},{"lv":0.049,"x":4.4845,"y":-0.015}
]
},
"bounds": "flush",
"spacing": 215,
"hconcat": [
{
 "width": 38, "height": 580,
 "encoding": {
  "x": {"datum": 0, "type": "quantitative", "scale": {"domain": [0, 1], "nice": false, "zero": false}, "axis": null},
  "x2": {"datum": 1},
  "y": {"field": "lo", "type": "quantitative", "scale": {"domain": [0.026, 0.05443], "nice": false, "zero": false},
        "axis": {"orient": "right", "values": [0.026,0.028,0.03,0.032,0.034,0.036,0.038,0.04,0.042,0.044,0.046,0.048,0.05], "labelFontSize": 20, "ticks": false, "labelPadding": 5, "title": null}},
  "y2": {"field": "hi"}
 },
 "layer": [
  {"data": {"name": "lg"}, "mark": {"type": "rect", "stroke": "black", "strokeWidth": 1},
   "encoding": {"fill": {"field": "lo", "type": "quantitative", "scale": {"domain": [0.012, 0.026, 0.05], "range": ["#ffdcdc", "#ff9999", "#ff0000"], "interpolate": "rgb", "clamp": true}, "legend": null}}},
  {"data": {"name": "lgb"}, "mark": {"type": "rect", "fillOpacity": 0, "stroke": "#555555", "strokeWidth": 1.5}}
 ]
},
{
 "vconcat": [
 {
  "width": 261, "height": 211,
  "encoding": {
   "x": {"field": "x", "type": "quantitative", "scale": {"domain": [4, 4.125], "nice": false, "zero": false}, "axis": {"values": [4, 4.125], "labelFontSize": 26, "title": null}},
   "y": {"field": "y", "type": "quantitative", "scale": {"domain": [0, 0.125], "nice": false, "zero": false}, "axis": {"values": [0, 0.125], "labelFontSize": 26, "title": null}}
  },
  "layer": [
   {"data": {"name": "c1"}, "mark": {"type": "line", "interpolate": "catmull-rom", "stroke": "black", "strokeWidth": 0.9, "clip": true},
    "encoding": {"detail": {"field": "lv", "type": "nominal"}, "order": {"value": null},
     "fill": {"field": "lv", "type": "quantitative", "scale": {"domain": [0.012, 0.026, 0.05], "range": ["#ffdcdc", "#ff9999", "#ff0000"], "interpolate": "rgb", "clamp": true}, "legend": null}}},
   {"data": {"name": "l1"}, "mark": {"type": "text", "angle": 318, "fontSize": 17, "fontWeight": "bold", "strokeWidth": 4},
    "encoding": {"text": {"field": "t"},
     "fill": {"field": "lv", "type": "quantitative", "scale": {"domain": [0.012, 0.026, 0.05], "range": ["#ffdcdc", "#ff9999", "#ff0000"], "interpolate": "rgb", "clamp": true}, "legend": null},
     "stroke": {"field": "lv", "type": "quantitative", "scale": {"domain": [0.012, 0.026, 0.05], "range": ["#ffdcdc", "#ff9999", "#ff0000"], "interpolate": "rgb", "clamp": true}, "legend": null}}},
   {"data": {"name": "l1"}, "mark": {"type": "text", "angle": 318, "fontSize": 17, "fontWeight": "bold", "color": "black"}, "encoding": {"text": {"field": "t"}}},
   {"data": {"name": "f1"}, "mark": {"type": "rect", "fillOpacity": 0, "stroke": "black", "strokeWidth": 3.5}, "encoding": {"x2": {"field": "x2"}, "y2": {"field": "y2"}}}
  ]
 },
 {
  "width": 431, "height": 179,
  "encoding": {
   "x": {"field": "x", "type": "quantitative", "scale": {"domain": [4, 4.25], "nice": false, "zero": false}, "axis": {"values": [4, 4.125, 4.25], "labelFontSize": 21, "title": null}},
   "y": {"field": "y", "type": "quantitative", "scale": {"domain": [0, 0.125], "nice": false, "zero": false}, "axis": {"values": [0, 0.125], "labelFontSize": 21, "title": null}}
  },
  "layer": [
   {"data": {"name": "c2"}, "mark": {"type": "line", "interpolate": "catmull-rom", "stroke": "black", "strokeWidth": 0.9, "clip": true},
    "encoding": {"detail": {"field": "lv", "type": "nominal"}, "order": {"value": null},
     "fill": {"field": "lv", "type": "quantitative", "scale": {"domain": [0.012, 0.026, 0.05], "range": ["#ffdcdc", "#ff9999", "#ff0000"], "interpolate": "rgb", "clamp": true}, "legend": null}}},
   {"data": {"name": "l2"}, "transform": [{"filter": "datum.g == 'a'"}], "mark": {"type": "text", "angle": 316, "fontSize": 18, "fontWeight": "bold", "strokeWidth": 4},
    "encoding": {"text": {"field": "t"},
     "fill": {"field": "lv", "type": "quantitative", "scale": {"domain": [0.012, 0.026, 0.05], "range": ["#ffdcdc", "#ff9999", "#ff0000"], "interpolate": "rgb", "clamp": true}, "legend": null},
     "stroke": {"field": "lv", "type": "quantitative", "scale": {"domain": [0.012, 0.026, 0.05], "range": ["#ffdcdc", "#ff9999", "#ff0000"], "interpolate": "rgb", "clamp": true}, "legend": null}}},
   {"data": {"name": "l2"}, "transform": [{"filter": "datum.g == 'a'"}], "mark": {"type": "text", "angle": 316, "fontSize": 18, "fontWeight": "bold", "color": "black"}, "encoding": {"text": {"field": "t"}}},
   {"data": {"name": "l2"}, "transform": [{"filter": "datum.g == 'b'"}], "mark": {"type": "text", "angle": 310, "fontSize": 18, "fontWeight": "bold", "strokeWidth": 4},
    "encoding": {"text": {"field": "t"},
     "fill": {"field": "lv", "type": "quantitative", "scale": {"domain": [0.012, 0.026, 0.05], "range": ["#ffdcdc", "#ff9999", "#ff0000"], "interpolate": "rgb", "clamp": true}, "legend": null},
     "stroke": {"field": "lv", "type": "quantitative", "scale": {"domain": [0.012, 0.026, 0.05], "range": ["#ffdcdc", "#ff9999", "#ff0000"], "interpolate": "rgb", "clamp": true}, "legend": null}}},
   {"data": {"name": "l2"}, "transform": [{"filter": "datum.g == 'b'"}], "mark": {"type": "text", "angle": 310, "fontSize": 18, "fontWeight": "bold", "color": "black"}, "encoding": {"text": {"field": "t"}}},
   {"data": {"name": "l2"}, "transform": [{"filter": "datum.g == 'c'"}], "mark": {"type": "text", "angle": 302, "fontSize": 18, "fontWeight": "bold", "strokeWidth": 4},
    "encoding": {"text": {"field": "t"},
     "fill": {"field": "lv", "type": "quantitative", "scale": {"domain": [0.012, 0.026, 0.05], "range": ["#ffdcdc", "#ff9999", "#ff0000"], "interpolate": "rgb", "clamp": true}, "legend": null},
     "stroke": {"field": "lv", "type": "quantitative", "scale": {"domain": [0.012, 0.026, 0.05], "range": ["#ffdcdc", "#ff9999", "#ff0000"], "interpolate": "rgb", "clamp": true}, "legend": null}}},
   {"data": {"name": "l2"}, "transform": [{"filter": "datum.g == 'c'"}], "mark": {"type": "text", "angle": 302, "fontSize": 18, "fontWeight": "bold", "color": "black"}, "encoding": {"text": {"field": "t"}}},
   {"data": {"name": "f2"}, "mark": {"type": "rect", "fillOpacity": 0, "stroke": "black", "strokeWidth": 3.5}, "encoding": {"x2": {"field": "x2"}, "y2": {"field": "y2"}}}
  ]
 },
 {
  "width": 771, "height": 158,
  "encoding": {
   "x": {"field": "x", "type": "quantitative", "scale": {"domain": [4, 4.5], "nice": false, "zero": false}, "axis": {"values": [4, 4.125, 4.25, 4.375, 4.5], "labelFontSize": 22, "title": null}},
   "y": {"field": "y", "type": "quantitative", "scale": {"domain": [0, 0.125], "nice": false, "zero": false}, "axis": {"values": [0, 0.125], "labelFontSize": 22, "title": null}}
  },
  "layer": [
   {"data": {"name": "c3"}, "mark": {"type": "line", "interpolate": "catmull-rom", "stroke": "black", "strokeWidth": 0.9, "clip": true},
    "encoding": {"detail": {"field": "lv", "type": "nominal"}, "order": {"value": null},
     "fill": {"field": "lv", "type": "quantitative", "scale": {"domain": [0.012, 0.026, 0.05], "range": ["#ffdcdc", "#ff9999", "#ff0000"], "interpolate": "rgb", "clamp": true}, "legend": null}}},
   {"data": {"name": "l3"}, "transform": [{"filter": "datum.g == 'a'"}], "mark": {"type": "text", "angle": 314, "fontSize": 18, "fontWeight": "bold", "strokeWidth": 4},
    "encoding": {"text": {"field": "t"},
     "fill": {"field": "lv", "type": "quantitative", "scale": {"domain": [0.012, 0.026, 0.05], "range": ["#ffdcdc", "#ff9999", "#ff0000"], "interpolate": "rgb", "clamp": true}, "legend": null},
     "stroke": {"field": "lv", "type": "quantitative", "scale": {"domain": [0.012, 0.026, 0.05], "range": ["#ffdcdc", "#ff9999", "#ff0000"], "interpolate": "rgb", "clamp": true}, "legend": null}}},
   {"data": {"name": "l3"}, "transform": [{"filter": "datum.g == 'a'"}], "mark": {"type": "text", "angle": 314, "fontSize": 18, "fontWeight": "bold", "color": "black"}, "encoding": {"text": {"field": "t"}}},
   {"data": {"name": "l3"}, "transform": [{"filter": "datum.g == 'b'"}], "mark": {"type": "text", "angle": 305, "fontSize": 18, "fontWeight": "bold", "strokeWidth": 4},
    "encoding": {"text": {"field": "t"},
     "fill": {"field": "lv", "type": "quantitative", "scale": {"domain": [0.012, 0.026, 0.05], "range": ["#ffdcdc", "#ff9999", "#ff0000"], "interpolate": "rgb", "clamp": true}, "legend": null},
     "stroke": {"field": "lv", "type": "quantitative", "scale": {"domain": [0.012, 0.026, 0.05], "range": ["#ffdcdc", "#ff9999", "#ff0000"], "interpolate": "rgb", "clamp": true}, "legend": null}}},
   {"data": {"name": "l3"}, "transform": [{"filter": "datum.g == 'b'"}], "mark": {"type": "text", "angle": 305, "fontSize": 18, "fontWeight": "bold", "color": "black"}, "encoding": {"text": {"field": "t"}}},
   {"data": {"name": "l3"}, "transform": [{"filter": "datum.g == 'c'"}], "mark": {"type": "text", "angle": 324, "fontSize": 18, "fontWeight": "bold", "strokeWidth": 4},
    "encoding": {"text": {"field": "t"},
     "fill": {"field": "lv", "type": "quantitative", "scale": {"domain": [0.012, 0.026, 0.05], "range": ["#ffdcdc", "#ff9999", "#ff0000"], "interpolate": "rgb", "clamp": true}, "legend": null},
     "stroke": {"field": "lv", "type": "quantitative", "scale": {"domain": [0.012, 0.026, 0.05], "range": ["#ffdcdc", "#ff9999", "#ff0000"], "interpolate": "rgb", "clamp": true}, "legend": null}}},
   {"data": {"name": "l3"}, "transform": [{"filter": "datum.g == 'c'"}], "mark": {"type": "text", "angle": 324, "fontSize": 18, "fontWeight": "bold", "color": "black"}, "encoding": {"text": {"field": "t"}}},
   {"data": {"name": "f3"}, "mark": {"type": "rect", "fillOpacity": 0, "stroke": "black", "strokeWidth": 3.5}, "encoding": {"x2": {"field": "x2"}, "y2": {"field": "y2"}}}
  ]
 }
 ],
 "spacing": 41,
 "bounds": "flush"
}
]
}
